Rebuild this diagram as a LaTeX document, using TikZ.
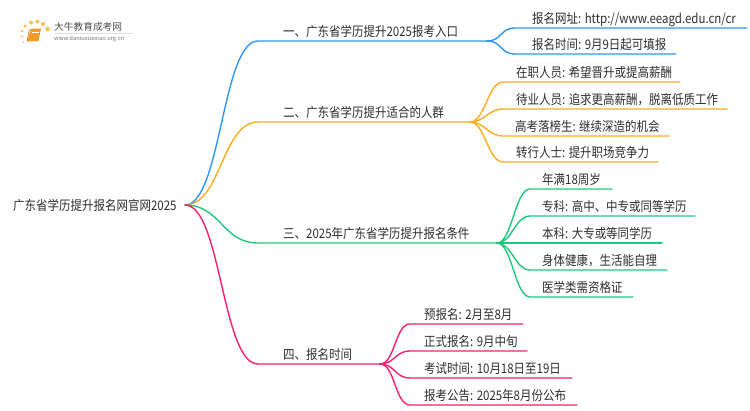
\documentclass[tikz,border=0pt]{standalone}
\usepackage{fontspec}
\setmainfont[FakeStretch=0.87]{Noto Sans CJK SC}
\newfontfamily\logofont{Noto Sans CJK SC}
\usetikzlibrary{calc}
\definecolor{cblue}{HTML}{2E96F5}
\definecolor{corange}{HTML}{F9AE1C}
\definecolor{cgreen}{HTML}{1FC77F}
\definecolor{cpink}{HTML}{F5206F}
\definecolor{ctext}{HTML}{2E2E2E}
\definecolor{cbook}{HTML}{F59A23}
\definecolor{cdot}{HTML}{F9C04A}
\tikzset{
 label/.style={anchor=base west,inner sep=0pt,font=\fontsize{13.2}{15}\selectfont,text=ctext},
 conn/.style={line width=1.4pt,line cap=round},
}
\begin{document}
\begin{tikzpicture}[x=1pt,y=-1pt]
\useasboundingbox (0,0) rectangle (750,410);
% logo
\fill[cbook] (31,28.5) -- (41,28.5) -- (38.5,41) -- (27,41.5) -- cycle;
\draw[cbook!70!black,line width=.5pt] (29.5,29) -- (27,41.5);
\draw[white,line width=.5pt] (32,32) -- (38.5,32);
\foreach \p/\r in {{25,26}/1.6,{31,22.5}/2,{37.5,21.5}/2,{43,24}/2,{47.5,29}/2.3,{22,31}/1.3,{22,36.5}/1.1,{23.5,42}/.9}{\fill[cdot] (\p) circle (\r);}
\node[anchor=west,inner sep=0pt,font=\logofont\fontsize{9.7}{11}\selectfont,text=black!70] (logot) at (54,27) {大牛教育成考网};
\node[anchor=west,inner sep=0pt,font=\logofont\fontsize{5.8}{7}\selectfont,text=black!55] (logou) at (54,38.5) {www.daniuxuexiao.org.cn};
\draw[black!12,line width=.5pt] (54,33) -- (133,33);
% root
\node[label] (root) at (13,210.5) {广东省学历提升报名网官网2025};
\coordinate (r) at (185,205);
% texts
\foreach \n/\x/\y/\t in {
 a/283/36/{一、广东省学历提升2025报考入口},
 b/283/117/{二、广东省学历提升适合的人群},
 c/283/238/{三、2025年广东省学历提升报名条件},
 d/283/359/{四、报名时间},
 a1/532/23/{报名网址: http://www.eeagd.edu.cn/cr},
 a2/532/49.5/{报名时间: 9月9日起可填报},
 b1/516/77/{在职人员: 希望晋升或提高薪酬},
 b2/516/104/{待业人员: 追求更高薪酬，脱离低质工作},
 b3/515/131/{高考落榜生: 继续深造的机会},
 b4/516/157.5/{转行人士: 提升职场竞争力},
 c1/542/184/{年满18周岁},
 c2/542/211/{专科: 高中、中专或同等学历},
 c3/542/238/{本科: 大专或等同学历},
 c4/542/265/{身体健康，生活能自理},
 c5/542/292/{医学类需资格证},
 d1/424/319/{预报名: 2月至8月},
 d2/424/346/{正式报名: 9月中旬},
 d3/424/373/{考试时间: 10月18日至19日},
 d4/424/400/{报考公告: 2025年8月份公布}}
 {\node[label] (\n) at (\x,\y) {\t};}
% line coordinates
\foreach \n/\sx/\y/\ex in {a/258/41/487,b/258/122/470,c/258/243/497,d/258/364/380,
 a1/515/28/747,a2/515/54/676,
 b1/503/82/680,b2/503/109/727,b3/503/136/669,b4/503/162/658,
 c1/530/189/612,c2/530/216/695,c3/530/243/662,c4/530/270/667,c5/530/297/633,
 d1/410/324/523,d2/410/351/527,d3/410/378/572,d4/410/405/577}
 {\coordinate (\n-s) at (\sx,\y); \coordinate (\n-e) at (\ex,\y);}
% main branches
\foreach \n/\c in {a/cblue,b/corange,c/cgreen,d/cpink}{
 \draw[conn,\c] (r) .. controls ($(r)+(36,0)$) and ($(\n-s)-(36,0)$) .. (\n-s) -- (\n-e);}
% sub-branches
\foreach \p/\c/\list in {a/cblue/{a1,a2},b/corange/{b1,b2,b3,b4},c/cgreen/{c1,c2,c4,c5},d/cpink/{d1,d2,d3,d4}}{
 \foreach \n in \list {
  \draw[conn,\c] (\p-e) .. controls ($(\p-e)+(15,0)$) and ($(\n-s)-(15,0)$) .. (\n-s) -- (\n-e);}}
\draw[conn,cgreen] (c-e) -- (c3-e);
\end{tikzpicture}
\end{document}
